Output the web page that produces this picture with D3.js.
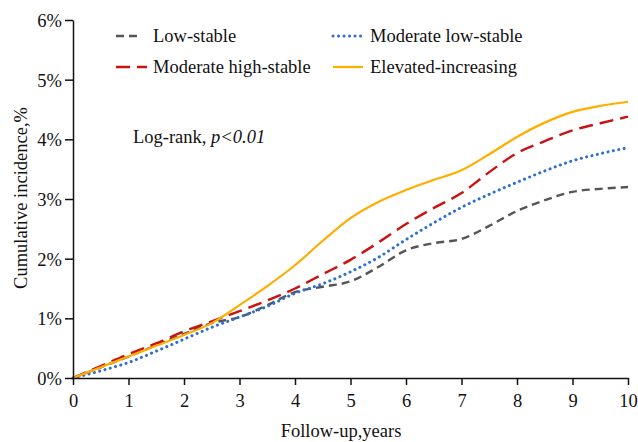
<!DOCTYPE html>
<html>
<head>
<meta charset="utf-8">
<script src="https://cdn.jsdelivr.net/npm/d3@7"></script>
<style>
  body { margin: 0; background: #fff; }
</style>
</head>
<body>
<svg class="chart"></svg>
<script>
// follow-up years (half-year steps)
const years = [0,0.5,1,1.5,2,2.5,3,3.5,4,4.5,5,5.5,6,6.5,7,7.5,8,8.5,9,9.5,10]
// cumulative incidence, %
const lowStable      = [0,0.18,0.36,0.55,0.74,0.92,1.02,1.22,1.44,1.53,1.62,1.86,2.14,2.26,2.33,2.55,2.80,2.98,3.12,3.17,3.20]
const modLowStable   = [0,0.12,0.26,0.45,0.65,0.85,1.02,1.20,1.42,1.58,1.78,2.02,2.32,2.60,2.86,3.08,3.28,3.47,3.64,3.76,3.86]
const modHighStable  = [0,0.20,0.40,0.58,0.78,0.95,1.12,1.30,1.50,1.74,1.98,2.27,2.58,2.85,3.10,3.45,3.77,3.97,4.15,4.27,4.38]
const elevatedIncr   = [0,0.18,0.36,0.54,0.72,0.92,1.22,1.54,1.89,2.30,2.68,2.95,3.15,3.32,3.48,3.75,4.04,4.28,4.46,4.56,4.63]
const seriesNames = ["Low-stable","Moderate low-stable","Moderate high-stable","Elevated-increasing"]
const xTicks = [0,1,2,3,4,5,6,7,8,9,10]
const yTicks = [0,1,2,3,4,5,6]

const width = 638, height = 442
const margin = {top: 20, right: 10, bottom: 64, left: 73}
const serif = "Liberation Serif"
const fs = 18.5

let svg = d3.select(".chart")
    .attr("width", width)
    .attr("height", height)

let x = d3.scaleLinear().domain([0,10]).range([margin.left, width - margin.right])
let y = d3.scaleLinear().domain([0,6]).range([height - margin.bottom, margin.top])

// styles per series (same order as seriesNames)
const styles = [
  {color: "#555555", width: 2.4, dash: "8,5", cap: "butt"},
  {color: "#2f6fd0", width: 3, dash: "0.1,5.4", cap: "round"},
  {color: "#cc1111", width: 2.4, dash: "14,7", cap: "butt"},
  {color: "#ffae00", width: 2.2, dash: null, cap: "butt"}
]
const allSeries = [lowStable, modLowStable, modHighStable, elevatedIncr]

let line = d3.line()
    .x(function(d){return x(d[0])})
    .y(function(d){return y(d[1])})
    .curve(d3.curveMonotoneX)

allSeries.forEach(function(s,i){
  let pts = years.map(function(t,j){return [t, s[j]]})
  let p = svg.append("path")
      .attr("d", line(pts))
      .attr("fill","none")
      .attr("stroke", styles[i].color)
      .attr("stroke-width", styles[i].width)
      .attr("stroke-linecap", styles[i].cap)
  if (styles[i].dash) p.attr("stroke-dasharray", styles[i].dash)
})

// axes
let xAxis = svg.append("g")
    .attr("transform","translate(0," + y(0) + ")")
    .call(d3.axisBottom(x).tickValues(xTicks).tickSize(7).tickPadding(9).tickSizeOuter(0))
let yAxis = svg.append("g")
    .attr("transform","translate(" + x(0) + ",0)")
    .call(d3.axisLeft(y).tickValues(yTicks).tickSize(8).tickPadding(3).tickSizeOuter(0)
      .tickFormat(function(d){return d + "%"}))

svg.selectAll("g").attr("font-family", serif).attr("font-size", fs)
svg.selectAll(".domain, .tick line").attr("stroke","#111").attr("stroke-width",1.5)
svg.selectAll(".tick text").attr("fill","#111")
yAxis.selectAll(".tick text").attr("dy","0.35em")

// axis titles
svg.append("text")
    .attr("x", 341).attr("y", 437)
    .attr("text-anchor","middle")
    .attr("font-family", serif).attr("font-size", fs).attr("fill","#111")
    .text("Follow-up,years")
svg.append("text")
    .attr("transform","translate(27,198) rotate(-90)")
    .attr("text-anchor","middle")
    .attr("font-family", serif).attr("font-size", fs).attr("fill","#111")
    .text("Cumulative incidence,%")

// legend
const legendPos = [[116,36],[333,36],[116,67],[333,67]]
seriesNames.forEach(function(name,i){
  let g = svg.append("g").attr("transform","translate(" + legendPos[i][0] + "," + legendPos[i][1] + ")")
  let len = (i==2) ? 31 : (i==0 ? 24 : 30)
  let l = g.append("line")
      .attr("x1",0).attr("x2",len).attr("y1",0).attr("y2",0)
      .attr("stroke", styles[i].color)
      .attr("stroke-width", styles[i].width)
      .attr("stroke-linecap", styles[i].cap)
  if (styles[i].dash) l.attr("stroke-dasharray", styles[i].dash)
  g.append("text")
      .attr("x", 37).attr("y", 0).attr("dy","0.33em")
      .attr("font-family", serif).attr("font-size", fs).attr("fill","#111")
      .text(name)
})

// log-rank note
let note = svg.append("text")
    .attr("x",133).attr("y",137).attr("dy","0.33em")
    .attr("font-family", serif).attr("font-size", fs).attr("fill","#111")
note.append("tspan").text("Log-rank, ")
note.append("tspan").attr("font-style","italic").text("p<0.01")
</script>
</body>
</html>
